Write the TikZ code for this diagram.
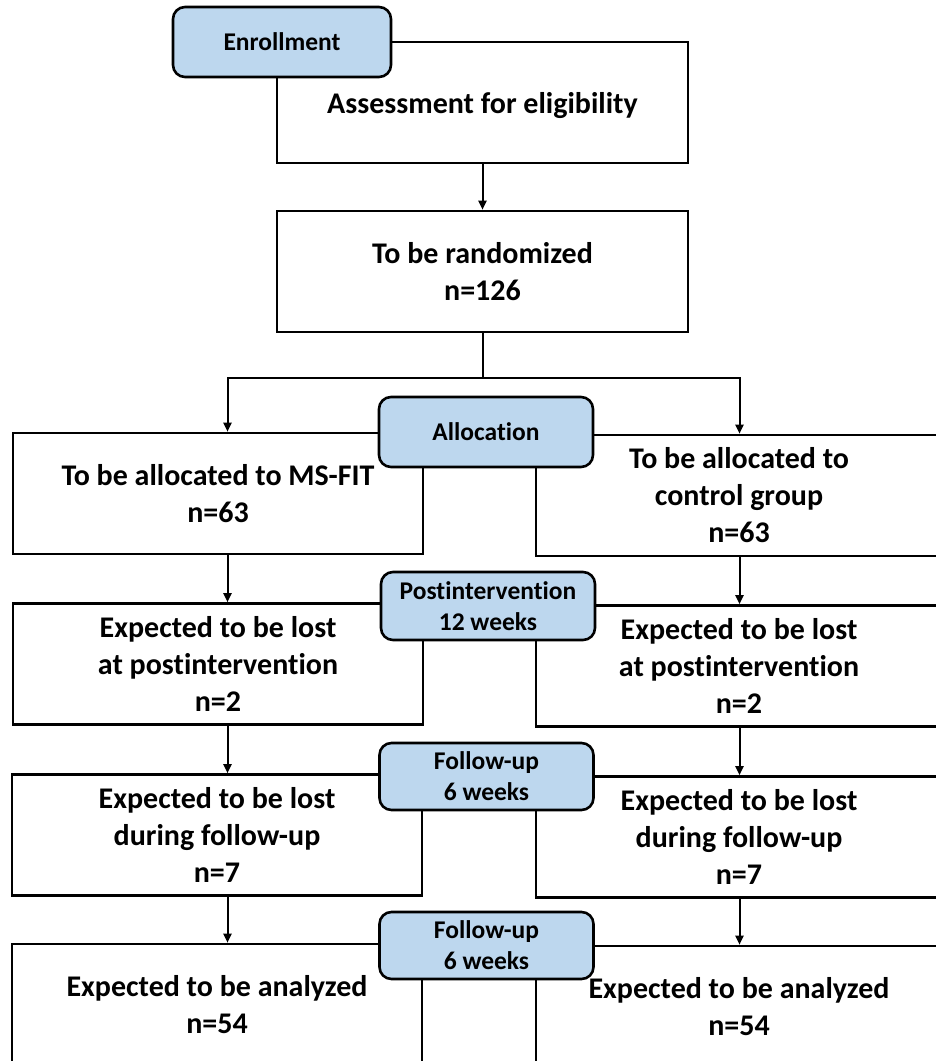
\documentclass[tikz,border=0pt]{standalone}
\usepackage{fontspec}
\setmainfont{Carlito}[Ligatures={NoCommon}]
\usetikzlibrary{arrows.meta,calc}
\definecolor{lblue}{RGB}{189,215,238}
\begin{document}
\begin{tikzpicture}[x=1pt,y=-1pt,
  box/.style={draw, line width=2.6pt, rectangle, minimum height=121pt, align=center,
    font=\fontsize{30}{37}\selectfont\bfseries, inner sep=0pt},
  lower/.style={execute at begin node={\rule{0pt}{28pt}}},
  lbl/.style={draw, line width=2.6pt, rectangle, rounded corners=12pt, fill=lblue,
    minimum width=214pt, minimum height=68pt, align=center,
    font=\fontsize{25.5}{31}\selectfont\bfseries, inner sep=0pt},
  conn/.style={line width=2pt},
  arr/.style={line width=2pt, -{Triangle[length=9pt,width=8pt]}}
]
\clip (0,0) rectangle (936,1061);
% main boxes
\node[box, lower, minimum width=411pt] (assess) at (482.5,102.5) {Assessment for eligibility};
\node[box, minimum width=411pt] (rand) at (482.5,271.5) {To be randomized\\n=126};
\node[box, minimum width=410pt] (alloL) at (218,493.5) {To be allocated to MS-FIT\\n=63};
\node[box, minimum width=406pt] (alloR) at (739,495.5) {To be allocated to\\control group\\n=63};
\node[box, lower, minimum width=410pt] (postL) at (218,664) {Expected to be lost\\at postintervention\\n=2};
\node[box, lower, minimum width=406pt] (postR) at (739,666) {Expected to be lost\\at postintervention\\n=2};
\node[box, minimum width=410pt] (fuL) at (217,835) {Expected to be lost\\during follow-up\\n=7};
\node[box, minimum width=406pt] (fuR) at (739,837) {Expected to be lost\\during follow-up\\n=7};
\node[box, minimum width=410pt] (anL) at (217,1004.5) {Expected to be analyzed\\n=54};
\node[box, minimum width=406pt] (anR) at (739,1006.5) {Expected to be analyzed\\n=54};
% stage labels
\node[lbl, minimum width=218pt, minimum height=70pt] (enr) at (282,42) {Enrollment};
\node[lbl, minimum height=70pt] (alloc) at (486,432) {Allocation};
\node[lbl] (post) at (488,606) {Postintervention\\12 weeks};
\node[lbl, minimum height=67pt] (fu1) at (486.5,776.5) {Follow-up\\6 weeks};
\node[lbl, minimum height=67pt] (fu2) at (486.5,945.5) {Follow-up\\6 weeks};
% connector columns
\coordinate (lcol) at (227.5,0);
\coordinate (rcol) at (739.5,0);
\coordinate (split) at (482.5,377.5);
% connectors
\draw[arr] (assess.south) -- (rand.north);
\draw[conn] (rand.south) -- (split);
\draw[arr] (split) -| (lcol |- alloL.north);
\draw[arr] (split) -| (rcol |- alloR.north);
\draw[arr] (lcol |- alloL.south) -- (lcol |- postL.north);
\draw[arr] (rcol |- alloR.south) -- (rcol |- postR.north);
\draw[arr] (lcol |- postL.south) -- (lcol |- fuL.north);
\draw[arr] (rcol |- postR.south) -- (rcol |- fuR.north);
\draw[arr] (lcol |- fuL.south) -- (lcol |- anL.north);
\draw[arr] (rcol |- fuR.south) -- (rcol |- anR.north);
\end{tikzpicture}
\end{document}
